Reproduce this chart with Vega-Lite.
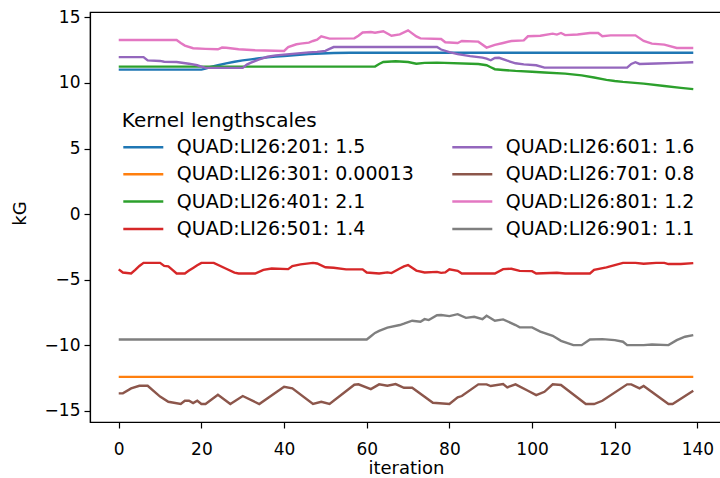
{
 "$schema": "https://vega.github.io/schema/vega-lite/v6.json",
 "width": 632, "height": 410,
 "autosize": {"type": "none"},
 "padding": {"left": 90, "top": 12, "right": -2, "bottom": 56},
 "background": "white",
 "config": {
  "view": {"stroke": "black", "strokeWidth": 1.2},
  "font": "DejaVu Sans",
  "axis": {"domainColor": "black", "domainWidth": 1.2, "tickColor": "black", "tickWidth": 1.2, "tickSize": 6, "labelColor": "black", "labelFont": "DejaVu Sans", "labelFontSize": 17, "titleFont": "DejaVu Sans", "titleFontSize": 18, "titleFontWeight": "normal", "titleColor": "black", "grid": false, "labelFlush": false}
 },
 "datasets": {"d": [
  {"series":"QUAD:LI26:201: 1.5","iteration":0,"kG":11.02},
  {"series":"QUAD:LI26:201: 1.5","iteration":20,"kG":11.02},
  {"series":"QUAD:LI26:201: 1.5","iteration":21,"kG":11.1},
  {"series":"QUAD:LI26:201: 1.5","iteration":22,"kG":11.2},
  {"series":"QUAD:LI26:201: 1.5","iteration":23,"kG":11.28},
  {"series":"QUAD:LI26:201: 1.5","iteration":24,"kG":11.35},
  {"series":"QUAD:LI26:201: 1.5","iteration":26,"kG":11.5},
  {"series":"QUAD:LI26:201: 1.5","iteration":28,"kG":11.62},
  {"series":"QUAD:LI26:201: 1.5","iteration":30,"kG":11.72},
  {"series":"QUAD:LI26:201: 1.5","iteration":32,"kG":11.8},
  {"series":"QUAD:LI26:201: 1.5","iteration":34,"kG":11.88},
  {"series":"QUAD:LI26:201: 1.5","iteration":36,"kG":11.95},
  {"series":"QUAD:LI26:201: 1.5","iteration":38,"kG":12.01},
  {"series":"QUAD:LI26:201: 1.5","iteration":40,"kG":12.06},
  {"series":"QUAD:LI26:201: 1.5","iteration":43,"kG":12.13},
  {"series":"QUAD:LI26:201: 1.5","iteration":46,"kG":12.2},
  {"series":"QUAD:LI26:201: 1.5","iteration":49,"kG":12.25},
  {"series":"QUAD:LI26:201: 1.5","iteration":52,"kG":12.28},
  {"series":"QUAD:LI26:201: 1.5","iteration":56,"kG":12.3},
  {"series":"QUAD:LI26:201: 1.5","iteration":139,"kG":12.3},
  {"series":"QUAD:LI26:301: 0.00013","iteration":0,"kG":-12.4},
  {"series":"QUAD:LI26:301: 0.00013","iteration":139,"kG":-12.4},
  {"series":"QUAD:LI26:401: 2.1","iteration":0,"kG":11.25},
  {"series":"QUAD:LI26:401: 2.1","iteration":62,"kG":11.25},
  {"series":"QUAD:LI26:401: 2.1","iteration":63,"kG":11.45},
  {"series":"QUAD:LI26:401: 2.1","iteration":64,"kG":11.6},
  {"series":"QUAD:LI26:401: 2.1","iteration":67,"kG":11.66},
  {"series":"QUAD:LI26:401: 2.1","iteration":70,"kG":11.6},
  {"series":"QUAD:LI26:401: 2.1","iteration":72,"kG":11.47},
  {"series":"QUAD:LI26:401: 2.1","iteration":74,"kG":11.53},
  {"series":"QUAD:LI26:401: 2.1","iteration":77,"kG":11.55},
  {"series":"QUAD:LI26:401: 2.1","iteration":87,"kG":11.45},
  {"series":"QUAD:LI26:401: 2.1","iteration":89,"kG":11.35},
  {"series":"QUAD:LI26:401: 2.1","iteration":90,"kG":11.2},
  {"series":"QUAD:LI26:401: 2.1","iteration":91,"kG":11.05},
  {"series":"QUAD:LI26:401: 2.1","iteration":93,"kG":10.99},
  {"series":"QUAD:LI26:401: 2.1","iteration":96,"kG":10.92},
  {"series":"QUAD:LI26:401: 2.1","iteration":100,"kG":10.86},
  {"series":"QUAD:LI26:401: 2.1","iteration":103,"kG":10.8},
  {"series":"QUAD:LI26:401: 2.1","iteration":108,"kG":10.71},
  {"series":"QUAD:LI26:401: 2.1","iteration":112,"kG":10.58},
  {"series":"QUAD:LI26:401: 2.1","iteration":115,"kG":10.42},
  {"series":"QUAD:LI26:401: 2.1","iteration":118,"kG":10.24},
  {"series":"QUAD:LI26:401: 2.1","iteration":120,"kG":10.15},
  {"series":"QUAD:LI26:401: 2.1","iteration":122,"kG":10.08},
  {"series":"QUAD:LI26:401: 2.1","iteration":127,"kG":9.95},
  {"series":"QUAD:LI26:401: 2.1","iteration":132,"kG":9.77},
  {"series":"QUAD:LI26:401: 2.1","iteration":136,"kG":9.63},
  {"series":"QUAD:LI26:401: 2.1","iteration":139,"kG":9.53},
  {"series":"QUAD:LI26:501: 1.4","iteration":0,"kG":-4.21},
  {"series":"QUAD:LI26:501: 1.4","iteration":1,"kG":-4.45},
  {"series":"QUAD:LI26:501: 1.4","iteration":3,"kG":-4.52},
  {"series":"QUAD:LI26:501: 1.4","iteration":4,"kG":-4.25},
  {"series":"QUAD:LI26:501: 1.4","iteration":5,"kG":-3.95},
  {"series":"QUAD:LI26:501: 1.4","iteration":6,"kG":-3.71},
  {"series":"QUAD:LI26:501: 1.4","iteration":10,"kG":-3.71},
  {"series":"QUAD:LI26:501: 1.4","iteration":11,"kG":-3.94},
  {"series":"QUAD:LI26:501: 1.4","iteration":12,"kG":-3.98},
  {"series":"QUAD:LI26:501: 1.4","iteration":13,"kG":-4.25},
  {"series":"QUAD:LI26:501: 1.4","iteration":14,"kG":-4.52},
  {"series":"QUAD:LI26:501: 1.4","iteration":16,"kG":-4.52},
  {"series":"QUAD:LI26:501: 1.4","iteration":17,"kG":-4.3},
  {"series":"QUAD:LI26:501: 1.4","iteration":18,"kG":-4.1},
  {"series":"QUAD:LI26:501: 1.4","iteration":19,"kG":-3.9},
  {"series":"QUAD:LI26:501: 1.4","iteration":20,"kG":-3.71},
  {"series":"QUAD:LI26:501: 1.4","iteration":23,"kG":-3.71},
  {"series":"QUAD:LI26:501: 1.4","iteration":26,"kG":-4.16},
  {"series":"QUAD:LI26:501: 1.4","iteration":28,"kG":-4.45},
  {"series":"QUAD:LI26:501: 1.4","iteration":29,"kG":-4.52},
  {"series":"QUAD:LI26:501: 1.4","iteration":33,"kG":-4.52},
  {"series":"QUAD:LI26:501: 1.4","iteration":35,"kG":-4.25},
  {"series":"QUAD:LI26:501: 1.4","iteration":37,"kG":-4.14},
  {"series":"QUAD:LI26:501: 1.4","iteration":41,"kG":-4.19},
  {"series":"QUAD:LI26:501: 1.4","iteration":42,"kG":-3.95},
  {"series":"QUAD:LI26:501: 1.4","iteration":44,"kG":-3.83},
  {"series":"QUAD:LI26:501: 1.4","iteration":47,"kG":-3.71},
  {"series":"QUAD:LI26:501: 1.4","iteration":48,"kG":-3.76},
  {"series":"QUAD:LI26:501: 1.4","iteration":50,"kG":-4.05},
  {"series":"QUAD:LI26:501: 1.4","iteration":52,"kG":-4.08},
  {"series":"QUAD:LI26:501: 1.4","iteration":55,"kG":-4.21},
  {"series":"QUAD:LI26:501: 1.4","iteration":59,"kG":-4.21},
  {"series":"QUAD:LI26:501: 1.4","iteration":60,"kG":-4.45},
  {"series":"QUAD:LI26:501: 1.4","iteration":63,"kG":-4.52},
  {"series":"QUAD:LI26:501: 1.4","iteration":65,"kG":-4.44},
  {"series":"QUAD:LI26:501: 1.4","iteration":66,"kG":-4.49},
  {"series":"QUAD:LI26:501: 1.4","iteration":68,"kG":-4.14},
  {"series":"QUAD:LI26:501: 1.4","iteration":69,"kG":-3.98},
  {"series":"QUAD:LI26:501: 1.4","iteration":70,"kG":-3.88},
  {"series":"QUAD:LI26:501: 1.4","iteration":72,"kG":-4.3},
  {"series":"QUAD:LI26:501: 1.4","iteration":74,"kG":-4.44},
  {"series":"QUAD:LI26:501: 1.4","iteration":77,"kG":-4.4},
  {"series":"QUAD:LI26:501: 1.4","iteration":78,"kG":-4.47},
  {"series":"QUAD:LI26:501: 1.4","iteration":79,"kG":-4.44},
  {"series":"QUAD:LI26:501: 1.4","iteration":80,"kG":-4.2},
  {"series":"QUAD:LI26:501: 1.4","iteration":82,"kG":-4.32},
  {"series":"QUAD:LI26:501: 1.4","iteration":83,"kG":-4.52},
  {"series":"QUAD:LI26:501: 1.4","iteration":91,"kG":-4.52},
  {"series":"QUAD:LI26:501: 1.4","iteration":93,"kG":-4.19},
  {"series":"QUAD:LI26:501: 1.4","iteration":95,"kG":-4.16},
  {"series":"QUAD:LI26:501: 1.4","iteration":97,"kG":-4.32},
  {"series":"QUAD:LI26:501: 1.4","iteration":100,"kG":-4.34},
  {"series":"QUAD:LI26:501: 1.4","iteration":101,"kG":-4.52},
  {"series":"QUAD:LI26:501: 1.4","iteration":106,"kG":-4.47},
  {"series":"QUAD:LI26:501: 1.4","iteration":108,"kG":-4.52},
  {"series":"QUAD:LI26:501: 1.4","iteration":114,"kG":-4.52},
  {"series":"QUAD:LI26:501: 1.4","iteration":115,"kG":-4.25},
  {"series":"QUAD:LI26:501: 1.4","iteration":118,"kG":-4.06},
  {"series":"QUAD:LI26:501: 1.4","iteration":120,"kG":-3.88},
  {"series":"QUAD:LI26:501: 1.4","iteration":122,"kG":-3.71},
  {"series":"QUAD:LI26:501: 1.4","iteration":125,"kG":-3.71},
  {"series":"QUAD:LI26:501: 1.4","iteration":127,"kG":-3.78},
  {"series":"QUAD:LI26:501: 1.4","iteration":130,"kG":-3.71},
  {"series":"QUAD:LI26:501: 1.4","iteration":132,"kG":-3.71},
  {"series":"QUAD:LI26:501: 1.4","iteration":133,"kG":-3.8},
  {"series":"QUAD:LI26:501: 1.4","iteration":136,"kG":-3.8},
  {"series":"QUAD:LI26:501: 1.4","iteration":139,"kG":-3.73},
  {"series":"QUAD:LI26:601: 1.6","iteration":0,"kG":11.97},
  {"series":"QUAD:LI26:601: 1.6","iteration":6,"kG":11.97},
  {"series":"QUAD:LI26:601: 1.6","iteration":7,"kG":11.72},
  {"series":"QUAD:LI26:601: 1.6","iteration":10,"kG":11.68},
  {"series":"QUAD:LI26:601: 1.6","iteration":11,"kG":11.62},
  {"series":"QUAD:LI26:601: 1.6","iteration":14,"kG":11.6},
  {"series":"QUAD:LI26:601: 1.6","iteration":17,"kG":11.47},
  {"series":"QUAD:LI26:601: 1.6","iteration":19,"kG":11.35},
  {"series":"QUAD:LI26:601: 1.6","iteration":20,"kG":11.25},
  {"series":"QUAD:LI26:601: 1.6","iteration":21,"kG":11.15},
  {"series":"QUAD:LI26:601: 1.6","iteration":30,"kG":11.15},
  {"series":"QUAD:LI26:601: 1.6","iteration":31,"kG":11.4},
  {"series":"QUAD:LI26:601: 1.6","iteration":32,"kG":11.55},
  {"series":"QUAD:LI26:601: 1.6","iteration":34,"kG":11.8},
  {"series":"QUAD:LI26:601: 1.6","iteration":36,"kG":12.0},
  {"series":"QUAD:LI26:601: 1.6","iteration":38,"kG":12.1},
  {"series":"QUAD:LI26:601: 1.6","iteration":42,"kG":12.22},
  {"series":"QUAD:LI26:601: 1.6","iteration":46,"kG":12.33},
  {"series":"QUAD:LI26:601: 1.6","iteration":48,"kG":12.37},
  {"series":"QUAD:LI26:601: 1.6","iteration":50,"kG":12.45},
  {"series":"QUAD:LI26:601: 1.6","iteration":51,"kG":12.6},
  {"series":"QUAD:LI26:601: 1.6","iteration":52,"kG":12.74},
  {"series":"QUAD:LI26:601: 1.6","iteration":77,"kG":12.74},
  {"series":"QUAD:LI26:601: 1.6","iteration":78,"kG":12.55},
  {"series":"QUAD:LI26:601: 1.6","iteration":80,"kG":12.35},
  {"series":"QUAD:LI26:601: 1.6","iteration":82,"kG":12.2},
  {"series":"QUAD:LI26:601: 1.6","iteration":85,"kG":12.05},
  {"series":"QUAD:LI26:601: 1.6","iteration":88,"kG":11.93},
  {"series":"QUAD:LI26:601: 1.6","iteration":89,"kG":11.85},
  {"series":"QUAD:LI26:601: 1.6","iteration":90,"kG":11.73},
  {"series":"QUAD:LI26:601: 1.6","iteration":91,"kG":11.9},
  {"series":"QUAD:LI26:601: 1.6","iteration":92,"kG":11.92},
  {"series":"QUAD:LI26:601: 1.6","iteration":94,"kG":11.7},
  {"series":"QUAD:LI26:601: 1.6","iteration":96,"kG":11.5},
  {"series":"QUAD:LI26:601: 1.6","iteration":98,"kG":11.42},
  {"series":"QUAD:LI26:601: 1.6","iteration":101,"kG":11.35},
  {"series":"QUAD:LI26:601: 1.6","iteration":103,"kG":11.17},
  {"series":"QUAD:LI26:601: 1.6","iteration":123,"kG":11.17},
  {"series":"QUAD:LI26:601: 1.6","iteration":124,"kG":11.45},
  {"series":"QUAD:LI26:601: 1.6","iteration":125,"kG":11.58},
  {"series":"QUAD:LI26:601: 1.6","iteration":126,"kG":11.45},
  {"series":"QUAD:LI26:601: 1.6","iteration":130,"kG":11.48},
  {"series":"QUAD:LI26:601: 1.6","iteration":135,"kG":11.53},
  {"series":"QUAD:LI26:601: 1.6","iteration":139,"kG":11.58},
  {"series":"QUAD:LI26:701: 0.8","iteration":0,"kG":-13.66},
  {"series":"QUAD:LI26:701: 0.8","iteration":1,"kG":-13.66},
  {"series":"QUAD:LI26:701: 0.8","iteration":3,"kG":-13.28},
  {"series":"QUAD:LI26:701: 0.8","iteration":5,"kG":-13.08},
  {"series":"QUAD:LI26:701: 0.8","iteration":7,"kG":-13.08},
  {"series":"QUAD:LI26:701: 0.8","iteration":10,"kG":-13.9},
  {"series":"QUAD:LI26:701: 0.8","iteration":12,"kG":-14.3},
  {"series":"QUAD:LI26:701: 0.8","iteration":15,"kG":-14.47},
  {"series":"QUAD:LI26:701: 0.8","iteration":16,"kG":-14.22},
  {"series":"QUAD:LI26:701: 0.8","iteration":17,"kG":-14.22},
  {"series":"QUAD:LI26:701: 0.8","iteration":18,"kG":-14.4},
  {"series":"QUAD:LI26:701: 0.8","iteration":19,"kG":-14.22},
  {"series":"QUAD:LI26:701: 0.8","iteration":20,"kG":-14.47},
  {"series":"QUAD:LI26:701: 0.8","iteration":21,"kG":-14.47},
  {"series":"QUAD:LI26:701: 0.8","iteration":24,"kG":-13.76},
  {"series":"QUAD:LI26:701: 0.8","iteration":27,"kG":-14.47},
  {"series":"QUAD:LI26:701: 0.8","iteration":30,"kG":-13.86},
  {"series":"QUAD:LI26:701: 0.8","iteration":34,"kG":-14.47},
  {"series":"QUAD:LI26:701: 0.8","iteration":40,"kG":-13.15},
  {"series":"QUAD:LI26:701: 0.8","iteration":42,"kG":-13.28},
  {"series":"QUAD:LI26:701: 0.8","iteration":47,"kG":-14.47},
  {"series":"QUAD:LI26:701: 0.8","iteration":49,"kG":-14.3},
  {"series":"QUAD:LI26:701: 0.8","iteration":51,"kG":-14.47},
  {"series":"QUAD:LI26:701: 0.8","iteration":57,"kG":-13.0},
  {"series":"QUAD:LI26:701: 0.8","iteration":58,"kG":-12.97},
  {"series":"QUAD:LI26:701: 0.8","iteration":61,"kG":-13.33},
  {"series":"QUAD:LI26:701: 0.8","iteration":63,"kG":-12.97},
  {"series":"QUAD:LI26:701: 0.8","iteration":65,"kG":-13.08},
  {"series":"QUAD:LI26:701: 0.8","iteration":67,"kG":-12.95},
  {"series":"QUAD:LI26:701: 0.8","iteration":69,"kG":-13.23},
  {"series":"QUAD:LI26:701: 0.8","iteration":71,"kG":-13.23},
  {"series":"QUAD:LI26:701: 0.8","iteration":76,"kG":-14.37},
  {"series":"QUAD:LI26:701: 0.8","iteration":80,"kG":-14.47},
  {"series":"QUAD:LI26:701: 0.8","iteration":82,"kG":-13.96},
  {"series":"QUAD:LI26:701: 0.8","iteration":83,"kG":-13.86},
  {"series":"QUAD:LI26:701: 0.8","iteration":87,"kG":-12.97},
  {"series":"QUAD:LI26:701: 0.8","iteration":89,"kG":-12.97},
  {"series":"QUAD:LI26:701: 0.8","iteration":90,"kG":-13.1},
  {"series":"QUAD:LI26:701: 0.8","iteration":93,"kG":-12.95},
  {"series":"QUAD:LI26:701: 0.8","iteration":94,"kG":-13.2},
  {"series":"QUAD:LI26:701: 0.8","iteration":96,"kG":-12.97},
  {"series":"QUAD:LI26:701: 0.8","iteration":99,"kG":-13.46},
  {"series":"QUAD:LI26:701: 0.8","iteration":101,"kG":-13.79},
  {"series":"QUAD:LI26:701: 0.8","iteration":103,"kG":-13.54},
  {"series":"QUAD:LI26:701: 0.8","iteration":105,"kG":-12.97},
  {"series":"QUAD:LI26:701: 0.8","iteration":107,"kG":-13.02},
  {"series":"QUAD:LI26:701: 0.8","iteration":113,"kG":-14.47},
  {"series":"QUAD:LI26:701: 0.8","iteration":115,"kG":-14.47},
  {"series":"QUAD:LI26:701: 0.8","iteration":117,"kG":-14.22},
  {"series":"QUAD:LI26:701: 0.8","iteration":123,"kG":-12.97},
  {"series":"QUAD:LI26:701: 0.8","iteration":124,"kG":-12.97},
  {"series":"QUAD:LI26:701: 0.8","iteration":126,"kG":-13.28},
  {"series":"QUAD:LI26:701: 0.8","iteration":127,"kG":-13.1},
  {"series":"QUAD:LI26:701: 0.8","iteration":133,"kG":-14.47},
  {"series":"QUAD:LI26:701: 0.8","iteration":134,"kG":-14.47},
  {"series":"QUAD:LI26:701: 0.8","iteration":139,"kG":-13.46},
  {"series":"QUAD:LI26:801: 1.2","iteration":0,"kG":13.28},
  {"series":"QUAD:LI26:801: 1.2","iteration":14,"kG":13.28},
  {"series":"QUAD:LI26:801: 1.2","iteration":15,"kG":13.05},
  {"series":"QUAD:LI26:801: 1.2","iteration":16,"kG":12.85},
  {"series":"QUAD:LI26:801: 1.2","iteration":18,"kG":12.65},
  {"series":"QUAD:LI26:801: 1.2","iteration":21,"kG":12.6},
  {"series":"QUAD:LI26:801: 1.2","iteration":24,"kG":12.57},
  {"series":"QUAD:LI26:801: 1.2","iteration":25,"kG":12.7},
  {"series":"QUAD:LI26:801: 1.2","iteration":26,"kG":12.68},
  {"series":"QUAD:LI26:801: 1.2","iteration":29,"kG":12.57},
  {"series":"QUAD:LI26:801: 1.2","iteration":33,"kG":12.49},
  {"series":"QUAD:LI26:801: 1.2","iteration":40,"kG":12.44},
  {"series":"QUAD:LI26:801: 1.2","iteration":41,"kG":12.74},
  {"series":"QUAD:LI26:801: 1.2","iteration":43,"kG":12.95},
  {"series":"QUAD:LI26:801: 1.2","iteration":44,"kG":13.0},
  {"series":"QUAD:LI26:801: 1.2","iteration":46,"kG":13.08},
  {"series":"QUAD:LI26:801: 1.2","iteration":47,"kG":13.2},
  {"series":"QUAD:LI26:801: 1.2","iteration":48,"kG":13.3},
  {"series":"QUAD:LI26:801: 1.2","iteration":49,"kG":13.56},
  {"series":"QUAD:LI26:801: 1.2","iteration":51,"kG":13.38},
  {"series":"QUAD:LI26:801: 1.2","iteration":57,"kG":13.4},
  {"series":"QUAD:LI26:801: 1.2","iteration":58,"kG":13.6},
  {"series":"QUAD:LI26:801: 1.2","iteration":59,"kG":13.85},
  {"series":"QUAD:LI26:801: 1.2","iteration":61,"kG":13.88},
  {"series":"QUAD:LI26:801: 1.2","iteration":62,"kG":13.83},
  {"series":"QUAD:LI26:801: 1.2","iteration":64,"kG":13.94},
  {"series":"QUAD:LI26:801: 1.2","iteration":66,"kG":13.6},
  {"series":"QUAD:LI26:801: 1.2","iteration":68,"kG":13.7},
  {"series":"QUAD:LI26:801: 1.2","iteration":70,"kG":14.01},
  {"series":"QUAD:LI26:801: 1.2","iteration":72,"kG":13.55},
  {"series":"QUAD:LI26:801: 1.2","iteration":73,"kG":13.4},
  {"series":"QUAD:LI26:801: 1.2","iteration":78,"kG":13.35},
  {"series":"QUAD:LI26:801: 1.2","iteration":79,"kG":13.1},
  {"series":"QUAD:LI26:801: 1.2","iteration":82,"kG":13.05},
  {"series":"QUAD:LI26:801: 1.2","iteration":83,"kG":13.2},
  {"series":"QUAD:LI26:801: 1.2","iteration":87,"kG":13.15},
  {"series":"QUAD:LI26:801: 1.2","iteration":89,"kG":12.7},
  {"series":"QUAD:LI26:801: 1.2","iteration":91,"kG":12.9},
  {"series":"QUAD:LI26:801: 1.2","iteration":93,"kG":13.05},
  {"series":"QUAD:LI26:801: 1.2","iteration":95,"kG":13.2},
  {"series":"QUAD:LI26:801: 1.2","iteration":98,"kG":13.25},
  {"series":"QUAD:LI26:801: 1.2","iteration":99,"kG":13.56},
  {"series":"QUAD:LI26:801: 1.2","iteration":102,"kG":13.6},
  {"series":"QUAD:LI26:801: 1.2","iteration":105,"kG":13.76},
  {"series":"QUAD:LI26:801: 1.2","iteration":106,"kG":13.69},
  {"series":"QUAD:LI26:801: 1.2","iteration":107,"kG":13.81},
  {"series":"QUAD:LI26:801: 1.2","iteration":108,"kG":13.65},
  {"series":"QUAD:LI26:801: 1.2","iteration":111,"kG":13.7},
  {"series":"QUAD:LI26:801: 1.2","iteration":114,"kG":13.81},
  {"series":"QUAD:LI26:801: 1.2","iteration":116,"kG":13.81},
  {"series":"QUAD:LI26:801: 1.2","iteration":117,"kG":13.56},
  {"series":"QUAD:LI26:801: 1.2","iteration":119,"kG":13.63},
  {"series":"QUAD:LI26:801: 1.2","iteration":125,"kG":13.63},
  {"series":"QUAD:LI26:801: 1.2","iteration":127,"kG":13.2},
  {"series":"QUAD:LI26:801: 1.2","iteration":129,"kG":13.0},
  {"series":"QUAD:LI26:801: 1.2","iteration":132,"kG":12.92},
  {"series":"QUAD:LI26:801: 1.2","iteration":135,"kG":12.67},
  {"series":"QUAD:LI26:801: 1.2","iteration":139,"kG":12.67},
  {"series":"QUAD:LI26:901: 1.1","iteration":0,"kG":-9.55},
  {"series":"QUAD:LI26:901: 1.1","iteration":60,"kG":-9.55},
  {"series":"QUAD:LI26:901: 1.1","iteration":61,"kG":-9.3},
  {"series":"QUAD:LI26:901: 1.1","iteration":62,"kG":-9.05},
  {"series":"QUAD:LI26:901: 1.1","iteration":63,"kG":-8.89},
  {"series":"QUAD:LI26:901: 1.1","iteration":65,"kG":-8.65},
  {"series":"QUAD:LI26:901: 1.1","iteration":68,"kG":-8.45},
  {"series":"QUAD:LI26:901: 1.1","iteration":69,"kG":-8.35},
  {"series":"QUAD:LI26:901: 1.1","iteration":71,"kG":-8.12},
  {"series":"QUAD:LI26:901: 1.1","iteration":73,"kG":-8.2},
  {"series":"QUAD:LI26:901: 1.1","iteration":74,"kG":-8.0},
  {"series":"QUAD:LI26:901: 1.1","iteration":75,"kG":-8.07},
  {"series":"QUAD:LI26:901: 1.1","iteration":77,"kG":-7.7},
  {"series":"QUAD:LI26:901: 1.1","iteration":78,"kG":-7.69},
  {"series":"QUAD:LI26:901: 1.1","iteration":80,"kG":-7.77},
  {"series":"QUAD:LI26:901: 1.1","iteration":82,"kG":-7.62},
  {"series":"QUAD:LI26:901: 1.1","iteration":84,"kG":-7.9},
  {"series":"QUAD:LI26:901: 1.1","iteration":86,"kG":-7.82},
  {"series":"QUAD:LI26:901: 1.1","iteration":88,"kG":-8.0},
  {"series":"QUAD:LI26:901: 1.1","iteration":89,"kG":-7.74},
  {"series":"QUAD:LI26:901: 1.1","iteration":91,"kG":-8.12},
  {"series":"QUAD:LI26:901: 1.1","iteration":93,"kG":-8.02},
  {"series":"QUAD:LI26:901: 1.1","iteration":96,"kG":-8.45},
  {"series":"QUAD:LI26:901: 1.1","iteration":97,"kG":-8.63},
  {"series":"QUAD:LI26:901: 1.1","iteration":100,"kG":-8.63},
  {"series":"QUAD:LI26:901: 1.1","iteration":102,"kG":-8.95},
  {"series":"QUAD:LI26:901: 1.1","iteration":105,"kG":-9.27},
  {"series":"QUAD:LI26:901: 1.1","iteration":107,"kG":-9.65},
  {"series":"QUAD:LI26:901: 1.1","iteration":110,"kG":-9.98},
  {"series":"QUAD:LI26:901: 1.1","iteration":112,"kG":-9.98},
  {"series":"QUAD:LI26:901: 1.1","iteration":114,"kG":-9.55},
  {"series":"QUAD:LI26:901: 1.1","iteration":117,"kG":-9.52},
  {"series":"QUAD:LI26:901: 1.1","iteration":120,"kG":-9.6},
  {"series":"QUAD:LI26:901: 1.1","iteration":122,"kG":-9.72},
  {"series":"QUAD:LI26:901: 1.1","iteration":123,"kG":-9.98},
  {"series":"QUAD:LI26:901: 1.1","iteration":127,"kG":-9.98},
  {"series":"QUAD:LI26:901: 1.1","iteration":129,"kG":-9.93},
  {"series":"QUAD:LI26:901: 1.1","iteration":133,"kG":-9.98},
  {"series":"QUAD:LI26:901: 1.1","iteration":135,"kG":-9.6},
  {"series":"QUAD:LI26:901: 1.1","iteration":137,"kG":-9.34},
  {"series":"QUAD:LI26:901: 1.1","iteration":139,"kG":-9.22}
 ]},
 "data": {"name": "d"},
 "mark": {"type": "line", "strokeWidth": 2.4},
 "encoding": {
  "x": {"field": "iteration", "type": "quantitative",
   "scale": {"domain": [-6.95, 145.95], "nice": false, "zero": false},
   "axis": {"values": [0,20,40,60,80,100,120,140], "title": "iteration", "labelPadding": 13, "titleY": 51.5, "titleBaseline": "alphabetic"}},
  "y": {"field": "kG", "type": "quantitative",
   "scale": {"domain": [-15.84, 15.41], "nice": false, "zero": false},
   "axis": {"values": [-15,-10,-5,0,5,10,15], "title": "kG", "labelPadding": 4, "titleX": -70, "titleY": 201, "titleBaseline": "middle", "titleAlign": "center"}},
  "color": {"field": "series", "type": "nominal",
   "scale": {
    "domain": ["QUAD:LI26:201: 1.5","QUAD:LI26:301: 0.00013","QUAD:LI26:401: 2.1","QUAD:LI26:501: 1.4","QUAD:LI26:601: 1.6","QUAD:LI26:701: 0.8","QUAD:LI26:801: 1.2","QUAD:LI26:901: 1.1"],
    "range": ["#1f77b4","#ff7f0e","#2ca02c","#d62728","#9467bd","#8c564b","#e377c2","#7f7f7f"]},
   "legend": {"title": "Kernel lengthscales", "orient": "none", "legendX": 31.8, "legendY": 98.5, "columns": 2, "symbolType": "M-1,0L3,0", "symbolSize": 400, "symbolStrokeWidth": 2.5, "labelFontSize": 19, "titleFontSize": 20, "titleFontWeight": "normal", "labelFont": "DejaVu Sans", "titleFont": "DejaVu Sans", "labelColor": "black", "titleColor": "black", "labelOffset": 32, "rowPadding": 5.3, "columnPadding": 33, "titlePadding": 5, "labelLimit": 0, "titleLimit": 0, "padding": 0}}
 }
}
